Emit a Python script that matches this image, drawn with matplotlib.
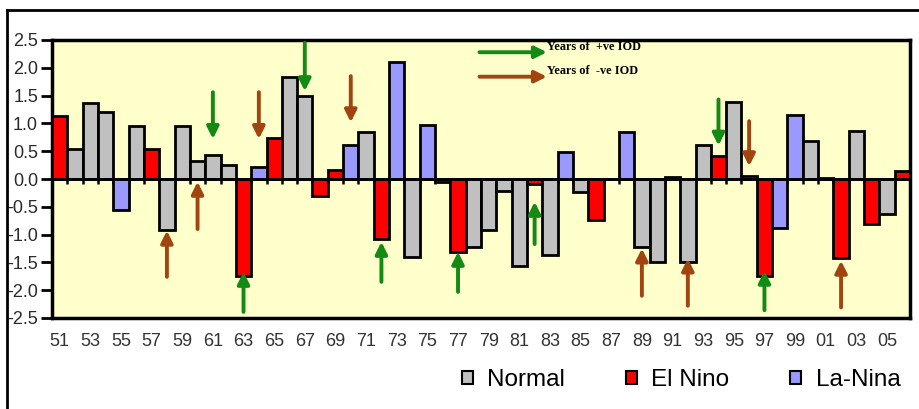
import numpy as np
import matplotlib
matplotlib.use('Agg')
import matplotlib.pyplot as plt
from matplotlib.patches import Patch
from matplotlib.lines import Line2D

plt.rcParams['font.family'] = ['Liberation Sans', 'DejaVu Sans']

# data
years = list(range(1951, 2007))
phase = ['E', 'N', 'N', 'N', 'L', 'N', 'E', 'N', 'N', 'N',   # 51-60
         'N', 'N', 'E', 'L', 'E', 'N', 'N', 'E', 'E', 'L',   # 61-70
         'N', 'E', 'L', 'N', 'L', 'N', 'E', 'N', 'N', 'N',   # 71-80
         'N', 'E', 'N', 'L', 'N', 'E', 'N', 'L', 'N', 'N',   # 81-90
         'N', 'N', 'N', 'E', 'N', 'N', 'E', 'L', 'L', 'N',   # 91-00
         'N', 'E', 'N', 'E', 'N', 'E']                       # 01-06
values = [1.13, 0.54, 1.37, 1.21, -0.56, 0.96, 0.54, -0.92, 0.96, 0.33,
          0.43, 0.26, -1.75, 0.21, 0.74, 1.84, 1.50, -0.30, 0.16, 0.61,
          0.84, -1.08, 2.10, -1.41, 0.98, -0.05, -1.32, -1.22, -0.92, -0.21,
          -1.56, -0.09, -1.37, 0.48, -0.24, -0.73, 0.00, 0.84, -1.23, -1.50,
          0.03, -1.49, 0.62, 0.42, 1.39, 0.05, -1.75, -0.88, 1.16, 0.69,
          0.02, -1.42, 0.87, -0.81, -0.63, 0.14]

# IOD arrows: (year, tail value, tip value)
pos_iod = [(1961, 1.56, 0.72), (1967, 2.45, 1.58), (1963, -2.39, -1.67),
           (1972, -1.85, -1.13), (1977, -2.03, -1.31), (1982, -1.17, -0.41),
           (1994, 1.43, 0.60), (1997, -2.36, -1.65)]
neg_iod = [(1964, 1.56, 0.72), (1960, -0.90, -0.05), (1958, -1.76, -0.93),
           (1970, 1.85, 1.02), (1989, -2.10, -1.25), (1992, -2.28, -1.43),
           (1996, 1.04, 0.23), (2002, -2.31, -1.47)]

colors = {'N': '#c0c0c0', 'E': '#ff0000', 'L': '#9999ff'}
green = '#138a13'
brown = '#a2440f'

fig = plt.figure(figsize=(9.19, 4.09), dpi=100)
ax = fig.add_axes([52 / 919, 1 - 318 / 409, 858 / 919, 278 / 409])
ax.set_facecolor('#ffffcc')

x = np.arange(len(years))
ax.bar(x, values, width=1.0, color=[colors[p] for p in phase],
       edgecolor='black', linewidth=2, zorder=3)

ax.axhline(0, color='black', lw=2, zorder=4)
ax.vlines(x[:-1] + 0.5, -0.09, 0, color='black', lw=1.8, zorder=2)

ax.set_xlim(-0.5, len(years) - 0.5)
ax.set_ylim(-2.5, 2.5)
ax.set_yticks(np.arange(-2.5, 2.51, 0.5))
ax.set_yticklabels(['%.1f' % v for v in np.arange(-2.5, 2.51, 0.5)])
ax.set_xticks(x[::2])
ax.set_xticklabels(['%02d' % (y % 100) for y in years[::2]])
ax.tick_params(axis='y', length=8, width=2, labelsize=13, labelcolor='#2a2a2a', pad=2)
ax.tick_params(axis='x', length=0, labelsize=13, labelcolor='#333333', pad=11)
for s in ax.spines.values():
    s.set_linewidth(2.5)

def arrow(year, tail, tip, c):
    i = years.index(year)
    ax.annotate('', xy=(i, tip), xytext=(i, tail),
                arrowprops=dict(arrowstyle='-|>,head_length=0.7,head_width=0.35',
                                lw=2.8, color=c, shrinkA=0, shrinkB=0), zorder=5)

for yr, t0, t1 in pos_iod:
    arrow(yr, t0, t1, green)
for yr, t0, t1 in neg_iod:
    arrow(yr, t0, t1, brown)

# key for arrows
for yy, c, txt in [(2.28, green, 'Years of  +ve IOD'), (1.84, brown, 'Years of  -ve IOD')]:
    ax.annotate('', xy=(31.8, yy), xytext=(27.4, yy),
                arrowprops=dict(arrowstyle='-|>,head_length=0.7,head_width=0.35',
                                lw=2.8, color=c, shrinkA=0, shrinkB=0), zorder=5)
    ax.text(31.8, yy + 0.1, txt, fontsize=8.8, fontweight='bold',
            family=['Liberation Serif'], ha='left', va='center', zorder=6)

handles = [Patch(facecolor=colors[k], edgecolor='black', lw=1.5) for k in 'NEL']
fig.legend(handles, ['Normal', 'El Nino', 'La-Nina'], loc='center',
           bbox_to_anchor=(681 / 919, 1 - 380 / 409), ncol=3, frameon=False,
           fontsize=17.5, handlelength=0.45, handleheight=0.45, handletextpad=0.6,
           columnspacing=2.5)

# outer frame
fig.add_artist(Line2D([7 / 919, 1], [1 - 10 / 409] * 2, color='black', lw=2))
fig.add_artist(Line2D([7 / 919] * 2, [0, 1 - 10 / 409], color='black', lw=2))

fig.savefig('out.png', dpi=100)
